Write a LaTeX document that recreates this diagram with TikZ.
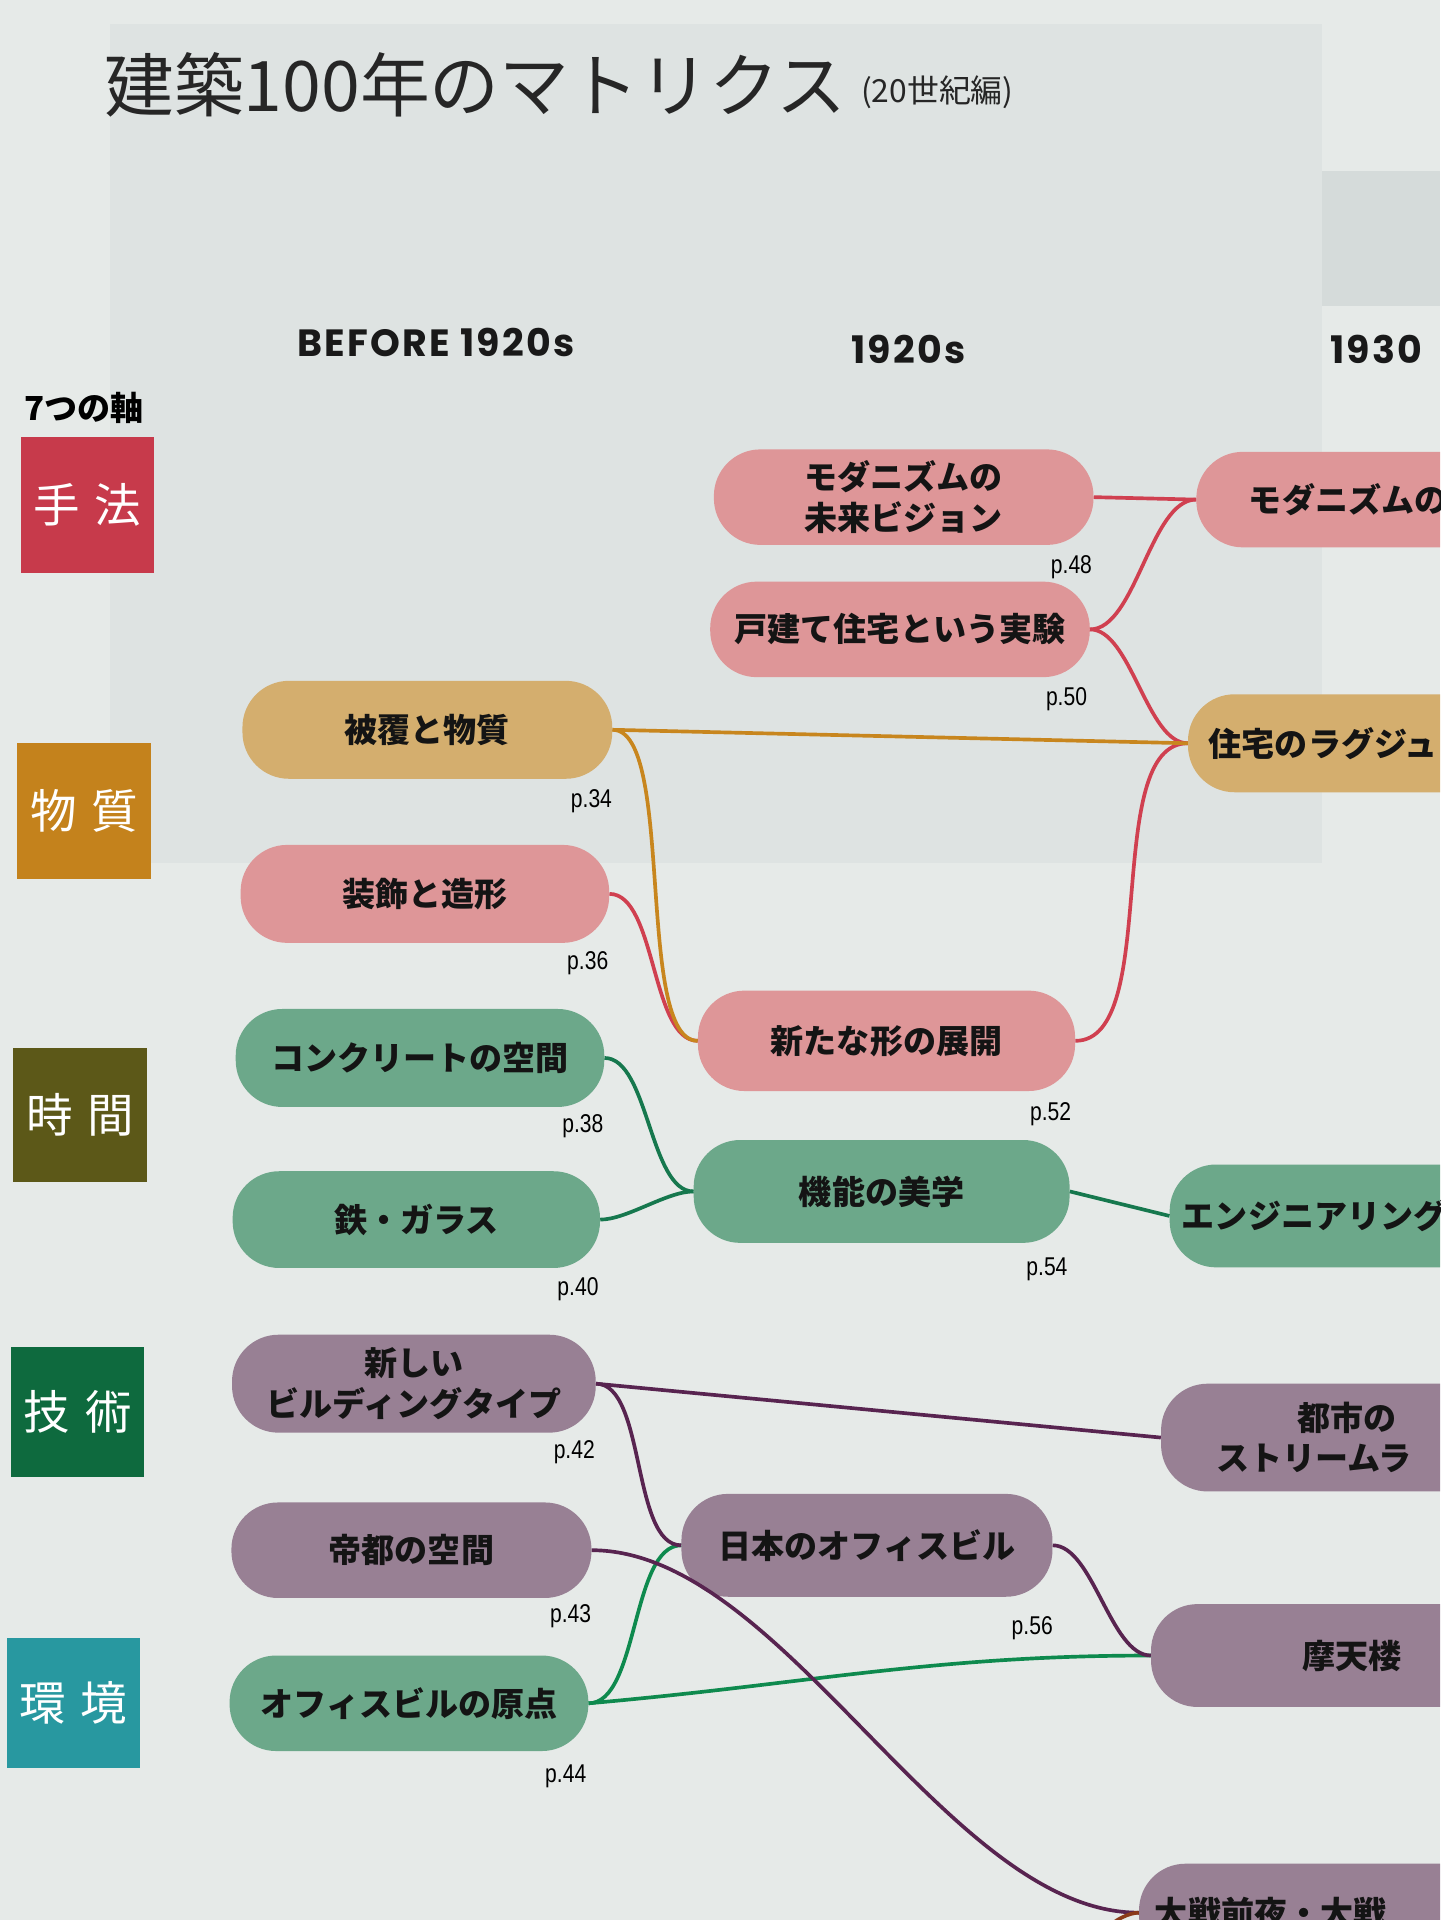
\documentclass[tikz,border=0pt]{standalone}
\usepackage{fontspec}
\newfontfamily\jp{Noto Sans CJK JP}
\newfontfamily\hd{Poppins}[LetterSpace=6]
\newfontfamily\pn{Liberation Sans}[FakeStretch=0.82]
\definecolor{bgc}{HTML}{E6EAE8}
\definecolor{panelc}{HTML}{DEE3E2}
\definecolor{blockc}{HTML}{D5DBDA}
\definecolor{axA}{HTML}{C73A4B}
\definecolor{axB}{HTML}{C4821C}
\definecolor{axC}{HTML}{5C5818}
\definecolor{axD}{HTML}{0E6A3E}
\definecolor{axE}{HTML}{2898A0}
\definecolor{pinkf}{HTML}{DE9698}
\definecolor{ochref}{HTML}{D4AE6E}
\definecolor{greenf}{HTML}{6CA88A}
\definecolor{purplef}{HTML}{988094}
\definecolor{redl}{HTML}{D04050}
\definecolor{ochrel}{HTML}{C8861E}
\definecolor{greenl}{HTML}{16784E}
\definecolor{greenl2}{HTML}{0E8A4E}
\definecolor{purplel}{HTML}{582450}
\definecolor{brownl}{HTML}{8B3A1A}
\tikzset{
  pill/.style={rounded corners=38pt, inner sep=0pt, align=center, text=black!92,
    font=\jp\bfseries\fontsize{27}{33}\selectfont},
  pinkn/.style={pill, fill=pinkf},
  ochren/.style={pill, fill=ochref},
  greenn/.style={pill, fill=greenf},
  purplen/.style={pill, fill=purplef},
  axisbox/.style={minimum width=109pt, inner sep=0pt, text=white,
    font=\jp\fontsize{38}{38}\selectfont},
  pnum/.style={inner sep=0pt, font=\pn\fontsize{21}{21}\selectfont, text=black},
  hdr/.style={inner sep=0pt, font=\hd\bfseries\fontsize{31}{31}\selectfont, text=black!90},
  conn/.style={line width=3pt, out=0, in=180, looseness=0.7},
  redc/.style={conn, draw=redl},
  ochrec/.style={conn, draw=ochrel},
  greenc/.style={conn, draw=greenl},
  greenc2/.style={conn, draw=greenl2},
  purplec/.style={conn, draw=purplel},
  brownc/.style={conn, draw=brownl},
}
\begin{document}
\begin{tikzpicture}[x=1pt,y=-1pt]
\useasboundingbox (0,0) rectangle (1176,1568);
\clip (0,0) rectangle (1176,1568);
% background (photographed page)
\fill[bgc] (0,0) rectangle (1176,1568);
\fill[panelc] (90,20) rectangle (1080,705);
\fill[blockc] (1080,140) rectangle (1176,250);

% title
\node[anchor=base west, inner sep=0pt, text=black!85, font=\jp\fontsize{57}{57}\selectfont] (title) at (85,91) {建築100年のマトリクス};
\node[anchor=base west, inner sep=0pt, text=black!85, font=\jp\fontsize{26}{26}\selectfont] (subtitle) at (703,84) {(20世紀編)};

% decade headers
\node[hdr] (h0) at (356,280) {BEFORE 1920s};
\node[hdr] (h1) at (742,285) {1920s};
\node[hdr, anchor=west] (h2) at (1086,285) {1930};

% axis labels
\node[anchor=base west, inner sep=0pt, font=\jp\bfseries\fontsize{27}{27}\selectfont] (axt) at (20,343) {7つの軸};
\node[axisbox, fill=axA, minimum height=111pt] (a1) at (71.5,412.5) {手\hspace{12pt}法};
\node[axisbox, fill=axB, minimum height=111pt] (a2) at (68.5,662.5) {物\hspace{12pt}質};
\node[axisbox, fill=axC, minimum height=109pt] (a3) at (65.5,910.5) {時\hspace{12pt}間};
\node[axisbox, fill=axD, minimum height=106pt] (a4) at (63.5,1153) {技\hspace{12pt}術};
\node[axisbox, fill=axE, minimum height=106pt] (a5) at (60,1391) {環\hspace{12pt}境};

% nodes
\node[pinkn, minimum width=310pt, minimum height=78pt] (mv) at (738,406) {モダニズムの\\未来ビジョン};
\node[pinkn, minimum width=310pt, minimum height=78pt] (kd) at (735,514) {戸建て住宅という実験};
\node[ochren, minimum width=302pt, minimum height=80pt] (hf) at (349,596) {被覆と物質};
\node[pinkn, minimum width=301pt, minimum height=80pt] (sz) at (347,730) {装飾と造形};
\node[pinkn, minimum width=308pt, minimum height=82pt] (at) at (724,850) {新たな形の展開};
\node[greenn, minimum width=301pt, minimum height=80pt] (ck) at (343,864) {コンクリートの空間};
\node[greenn, minimum width=300pt, minimum height=79pt] (tg) at (340,996) {鉄・ガラス};
\node[greenn, minimum width=307pt, minimum height=84pt] (kn) at (720,973) {機能の美学};
\node[purplen, minimum width=297pt, minimum height=80pt] (bt) at (338,1130) {新しい\\ビルディングタイプ};
\node[purplen, minimum width=294pt, minimum height=78pt] (tt) at (336,1266) {帝都の空間};
\node[purplen, minimum width=303pt, minimum height=84pt] (jo) at (708,1262) {日本のオフィスビル};
\node[greenn, minimum width=293pt, minimum height=78pt] (og) at (334,1391) {オフィスビルの原点};

% right column (cut by the page edge, as in the reference)
\node[pinkn, minimum width=248pt, minimum height=78pt] (mr) at (1101,408) {モダニズムの};
\node[ochren, minimum height=80pt, anchor=west, inner xsep=17pt] (rg) at (970,607) {住宅のラグジュ\phantom{アリー}};
\node[greenn, minimum height=84pt, anchor=west, inner xsep=10pt] (en) at (955,993) {エンジニアリング\phantom{ニア}};
\node[purplen, minimum height=88pt, anchor=west, inner xsep=45pt] (ts) at (948,1174) {都市の\\ストリームラ\phantom{イン}};
\node[purplen, minimum width=328pt, minimum height=84pt] (mt) at (1104,1352) {摩天楼};
\node[purplen, minimum height=80pt, anchor=west, inner xsep=13pt] (tz) at (930,1562) {大戦前夜・大戦\phantom{アアア}};
\coordinate (bz) at (905,1575);

% page numbers
\node[pnum] (p48) at (875,463) {p.48};
\node[pnum] (p50) at (871,571) {p.50};
\node[pnum] (p34) at (483,654) {p.34};
\node[pnum] (p36) at (480,787) {p.36};
\node[pnum] (p38) at (476,920) {p.38};
\node[pnum] (p40) at (472,1053) {p.40};
\node[pnum] (p52) at (858,910) {p.52};
\node[pnum] (p54) at (855,1037) {p.54};
\node[pnum] (p42) at (469,1186) {p.42};
\node[pnum] (p43) at (466,1320) {p.43};
\node[pnum] (p44) at (462,1451) {p.44};
\node[pnum] (p56) at (843,1330) {p.56};

% connectors
\draw[redc] (mv.east) -- (mr.west);
\draw[redc] (kd.east) to (mr.west);
\draw[redc] (kd.east) to (rg.west);
\draw[redc] (at.east) to (rg.west);
\draw[redc] (sz.east) to (at.west);
\draw[ochrec] (hf.east) -- (rg.west);
\draw[ochrec, looseness=0.5] (hf.east) to (at.west);
\draw[greenc] (ck.east) to (kn.west);
\draw[greenc] (tg.east) to (kn.west);
\draw[greenc] (kn.east) -- (en.west);
\draw[greenc2] (og.east) to (jo.west);
\draw[greenc2, out=5, looseness=1] (og.east) to (mt.west);
\draw[purplec] (bt.east) -- (ts.west);
\draw[purplec] (bt.east) to (jo.west);
\draw[purplec] (jo.east) to (mt.west);
\draw[purplec, looseness=0.75] (tt.east) to (tz.west);
\draw[brownc, out=60, in=180] (bz) to (tz.west);
\end{tikzpicture}
\end{document}
